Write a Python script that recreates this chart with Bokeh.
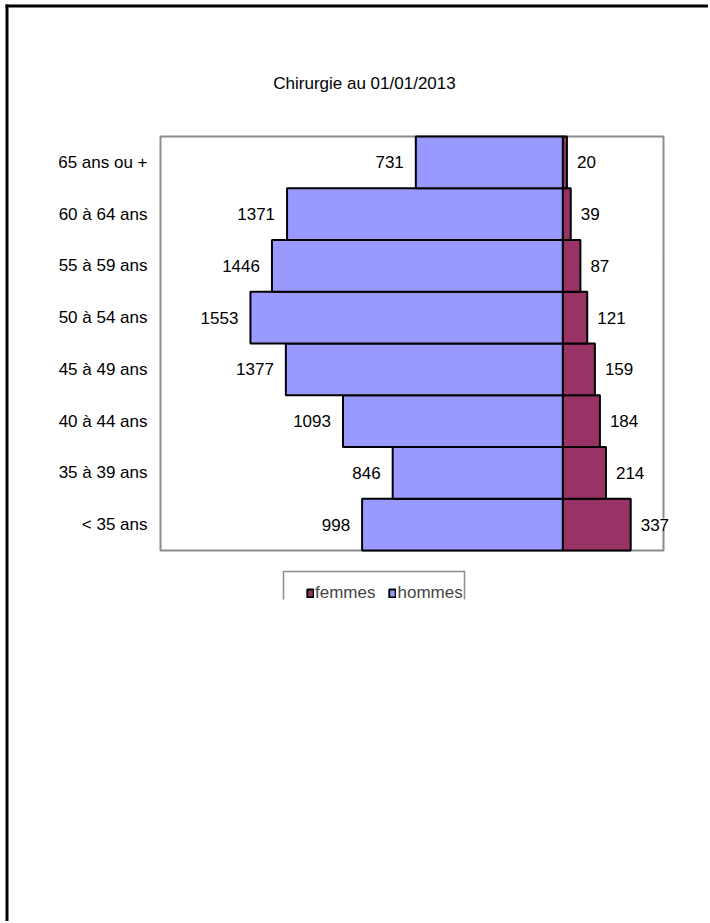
from bokeh.plotting import figure
from bokeh.models import (Range1d, BoxAnnotation, Legend, LegendItem,
                          ColumnDataSource, LabelSet, Label)
from bokeh.core.properties import value
from bokeh.embed import file_html
from bokeh.resources import INLINE

# ---- data ----
categories = ["< 35 ans", "35 à 39 ans", "40 à 44 ans", "45 à 49 ans",
              "50 à 54 ans", "55 à 59 ans", "60 à 64 ans", "65 ans ou +"]
hommes = [998, 846, 1093, 1377, 1553, 1446, 1371, 731]
femmes = [337, 214, 184, 159, 121, 87, 39, 20]
series_names = ["femmes", "hommes"]
title_text = "Chirurgie au 01/01/2013"
x_min, x_max = -2000, 500

FONT = "Liberation Sans"
FS = "17px"
C_H = "#9999FF"
C_F = "#993366"
GRAY = "#8c8c8c"

W, H = 708, 921
FL, FT, FR, FB = 160, 136, 663, 550   # plot-area edges in canvas pixels

n = len(categories)
ypos = list(range(n))
ux = (x_max - x_min) / (FR - FL)
uy = n / (FB - FT)

src = ColumnDataSource(dict(
    cat=categories,
    y=ypos,
    h_left=[-v for v in hommes],
    f_right=femmes,
    h_lab=[str(v) for v in hommes],
    f_lab=[str(v) for v in femmes],
))

p = figure(width=W, height=H, title=None,
           x_range=Range1d(x_min - FL * ux, x_max + (W - FR) * ux),
           y_range=Range1d(-0.5 - (H - FB) * uy, n - 0.5 + FT * uy),
           x_axis_location=None, y_axis_location=None,
           output_backend="svg", toolbar_location=None,
           min_border=0, min_border_left=0, min_border_right=0,
           min_border_top=0, min_border_bottom=0)
p.extra_x_ranges = {"px": Range1d(0, W)}
p.extra_y_ranges = {"px": Range1d(H, 0)}
p.xgrid.visible = False
p.ygrid.visible = False
p.outline_line_color = None
p.background_fill_color = "white"
p.border_fill_color = "white"

PX = dict(x_range_name="px", y_range_name="px")

# plot-area box
p.add_layout(BoxAnnotation(left=x_min, right=x_max, bottom=-0.5, top=n - 0.5,
                           fill_alpha=0, line_color=GRAY, line_alpha=1,
                           line_width=2, level="underlay"))

rh = p.hbar(y="y", left="h_left", right=0, height=1.0, source=src,
            fill_color=C_H, line_color="black", line_width=2)
rf = p.hbar(y="y", left=0, right="f_right", height=1.0, source=src,
            fill_color=C_F, line_color="black", line_width=2)

# category labels
p.add_layout(LabelSet(x=x_min, y="y", text="cat", source=src,
                      x_offset=-13, text_align="right", text_baseline="middle",
                      text_font=value(FONT), text_font_size=value(FS),
                      text_color="black"))
# value labels
p.add_layout(LabelSet(x="h_left", y="y", text="h_lab", source=src,
                      x_offset=-12, text_align="right", text_baseline="middle",
                      text_font=value(FONT), text_font_size=value(FS),
                      text_color="black", level="overlay"))
p.add_layout(LabelSet(x="f_right", y="y", text="f_lab", source=src,
                      x_offset=10, text_align="left", text_baseline="middle",
                      text_font=value(FONT), text_font_size=value(FS),
                      text_color="black", background_fill_color="white",
                      level="overlay"))

# title
p.add_layout(Label(x=364, y=83, text=title_text, text_font=FONT,
                   text_font_size=FS, text_align="center",
                   text_baseline="middle", text_color="black", **PX))

# outer frame lines
p.add_layout(BoxAnnotation(left=5, right=8, top=4, bottom=H, fill_color="black",
                           fill_alpha=1, line_color=None, level="overlay", **PX))
p.add_layout(BoxAnnotation(left=5, right=W, top=4, bottom=7, fill_color="black",
                           fill_alpha=1, line_color=None, level="overlay", **PX))

# legend (box cut at the bottom like the reference)
p.add_layout(BoxAnnotation(left=283, right=464, top=571, bottom=640,
                           fill_alpha=0, line_color=GRAY, line_alpha=1,
                           line_width=1.5, level="annotation", **PX))
legend = Legend(items=[LegendItem(label=series_names[0], renderers=[rf]),
                       LegendItem(label=series_names[1], renderers=[rh])],
                orientation="horizontal", location=(306, H - 603),
                border_line_color=None, background_fill_alpha=0,
                label_text_font=FONT, label_text_font_size=FS,
                glyph_width=8, glyph_height=10, label_standoff=1,
                spacing=13, padding=0, margin=0)
p.add_layout(legend, "center")
p.add_layout(BoxAnnotation(left=270, right=480, top=599, bottom=700,
                           fill_color="white", fill_alpha=1, line_color=None,
                           level="overlay", **PX))

open("out.html", "w").write(file_html(p, INLINE))
